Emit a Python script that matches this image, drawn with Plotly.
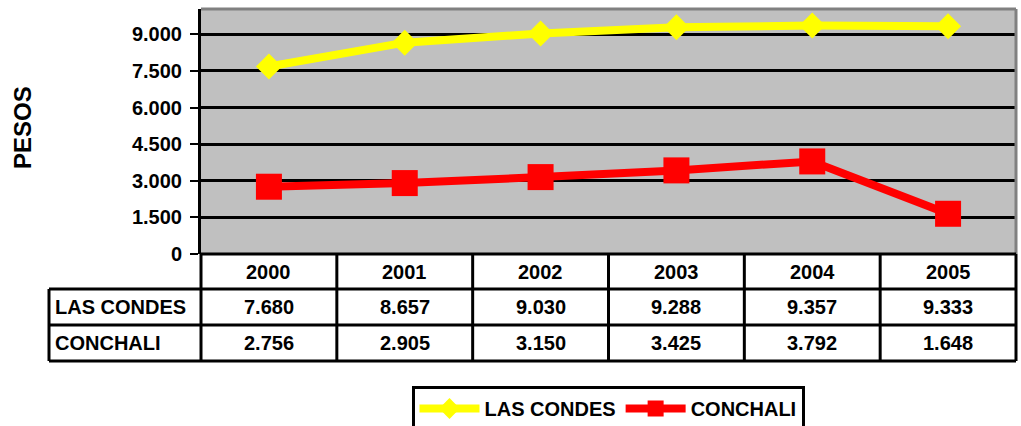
import plotly.graph_objects as go

years = ['2000', '2001', '2002', '2003', '2004', '2005']
las_condes = [7680, 8657, 9030, 9288, 9357, 9333]
conchali = [2756, 2905, 3150, 3425, 3792, 1648]
y_ticks = [0, 1500, 3000, 4500, 6000, 7500, 9000]

W, H = 1021, 426
L, R, T, B = 201, 1016, 9, 254   # plot area in pixels
FONT = 'Liberation Sans, Arial, sans-serif'


def fmt(v):
    return f'{v:,}'.replace(',', '.')


def px(x):
    return (x - L) / (R - L)


def py(y):
    return (B - y) / (B - T)


fig = go.Figure()
fig.add_trace(go.Scatter(
    x=years, y=las_condes, name='LAS CONDES', mode='lines+markers',
    line=dict(color='#FFFF00', width=8),
    marker=dict(symbol='diamond', size=20, color='#FFFF00')))
fig.add_trace(go.Scatter(
    x=years, y=conchali, name='CONCHALI', mode='lines+markers',
    line=dict(color='#FF0000', width=8),
    marker=dict(symbol='square', size=26, color='#FF0000')))

# tabla de datos debajo del grafico
rows = [289, 325, 361]
label_left = 49
line = dict(color='black', width=3)
shapes = []
# bordes gris arriba / derecha del area
shapes.append(dict(type='line', xref='paper', yref='paper', x0=0, x1=1, y0=1, y1=1,
                   line=dict(color='#808080', width=3)))
shapes.append(dict(type='line', xref='paper', yref='paper', x0=1, x1=1, y0=0, y1=1,
                   line=dict(color='#808080', width=3)))
# horizontales
shapes.append(dict(type='line', xref='paper', yref='paper', x0=0, x1=1, y0=0, y1=0, line=line))
for yy in rows:
    shapes.append(dict(type='line', xref='paper', yref='paper', x0=px(label_left), x1=1,
                       y0=py(yy), y1=py(yy), line=line))
# verticales
col_w = (R - L) / len(years)
for i in range(len(years) + 1):
    shapes.append(dict(type='line', xref='paper', yref='paper', x0=px(L + i * col_w), x1=px(L + i * col_w),
                       y0=py(rows[-1]), y1=0, line=line))
shapes.append(dict(type='line', xref='paper', yref='paper', x0=px(label_left), x1=px(label_left),
                   y0=py(rows[-1]), y1=py(rows[0]), line=line))

annotations = []
cell_font = dict(family=FONT, size=20, color='black', weight='bold')
for i, yr in enumerate(years):
    annotations.append(dict(x=i, xref='x', y=py((B + rows[0]) / 2), yref='paper', text=yr,
                            xanchor='center', yanchor='middle', showarrow=False, font=cell_font))
for name, vals, (ya, yb) in [('LAS CONDES', las_condes, (rows[0], rows[1])),
                              ('CONCHALI', conchali, (rows[1], rows[2]))]:
    yc = py((ya + yb) / 2)
    annotations.append(dict(x=px(label_left + 4), xref='paper', xanchor='left', y=yc, yref='paper',
                            yanchor='middle', text=name, showarrow=False, font=cell_font))
    for i, v in enumerate(vals):
        annotations.append(dict(x=i, xref='x', y=yc, yref='paper', text=fmt(v),
                                xanchor='center', yanchor='middle', showarrow=False, font=cell_font))
annotations.append(dict(x=px(22), xref='paper', y=py(128), yref='paper', text='PESOS', textangle=-90,
                        xanchor='center', yanchor='middle', showarrow=False,
                        font=dict(family=FONT, size=24, color='black', weight='bold')))

fig.update_layout(
    width=W, height=H,
    margin=dict(l=L, r=W - R, t=T, b=H - B, pad=0, autoexpand=False),
    paper_bgcolor='white', plot_bgcolor='#C0C0C0',
    separators=',.',
    font=dict(family=FONT, color='black'),
    showlegend=True,
    legend=dict(orientation='h', x=px(608), xanchor='center', y=py(386), yanchor='top',
                bordercolor='black', borderwidth=3, bgcolor='white',
                font=dict(family=FONT, size=20, color='black', weight='bold'),
                itemwidth=60),
    shapes=shapes, annotations=annotations,
)
fig.update_xaxes(range=[-0.5, 5.5], showticklabels=False, showgrid=False, zeroline=False,
                 showline=False, ticks='')
fig.update_yaxes(range=[0, 10036], tickvals=y_ticks, tickformat=',d',
                 showgrid=True, gridcolor='black', gridwidth=2.5, zeroline=False,
                 showline=True, linecolor='black', linewidth=3,
                 ticks='outside', ticklen=8, tickwidth=2, tickcolor='black', ticklabelstandoff=4,
                 tickfont=dict(family=FONT, size=20, color='black', weight='bold'))

fig.write_html('out.html', config={'displayModeBar': False},
               post_script="document.body.style.margin='0px';")
